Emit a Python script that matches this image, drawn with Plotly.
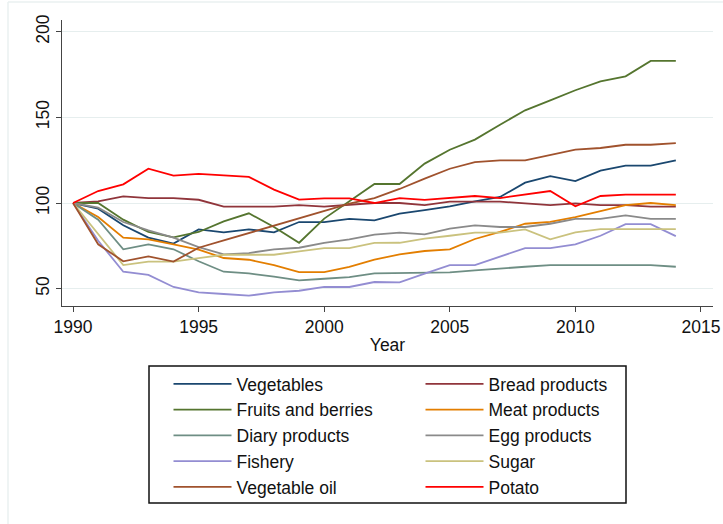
import plotly.graph_objects as go

years = list(range(1990, 2015))

vegetables = [100, 96.7, 87, 79.8, 76.3, 84.6, 82.9, 84.6, 82.9, 88.9, 88.9, 90.7, 89.9,
              93.8, 95.9, 98.1, 101, 103.5, 111.9, 115.7, 112.8, 118.9, 121.8, 121.8, 124.9]
bread = [100, 101, 103.9, 102.9, 102.9, 101.9, 97.9, 97.9, 97.9, 98.8, 97.9, 99, 100,
         100, 98.8, 100.8, 100.8, 100.8, 99.8, 98.8, 99.8, 98.8, 98.8, 97.9, 97.9]
fruits = [100, 100, 90.3, 83.1, 80, 83.1, 89.3, 94, 86, 76.8, 90.9, 101, 111.1,
          111.1, 123, 131.1, 137, 145.7, 154.1, 159.9, 165.8, 171, 173.9, 182.9, 182.9]
meat = [100, 91.8, 79.8, 78.8, 75.9, 72.8, 67.9, 66.9, 63.8, 59.7, 59.7, 62.8, 66.9,
        70, 72, 73, 79, 83.1, 87.9, 89, 91.8, 95.1, 98.8, 100, 98.8]
diary = [100, 90.3, 73, 75.9, 73, 66, 59.9, 58.9, 57, 54.9, 55.8, 56.8, 58.9,
         59.1, 59.5, 59.5, 60.7, 61.9, 62.8, 63.8, 63.8, 63.8, 63.8, 63.8, 62.8]
egg = [100, 97.3, 88.9, 84, 79.8, 74.3, 70, 70.8, 73, 73.9, 76.8, 78.8, 81.5,
       82.7, 81.7, 85, 87, 86, 86, 87.9, 90.7, 90.7, 92.8, 90.7, 90.7]
fishery = [100, 78, 59.9, 58, 51, 47.9, 46.9, 45.9, 47.9, 48.8, 51, 51, 53.9,
           53.7, 58.8, 63.8, 63.8, 68.9, 73.7, 73.7, 75.9, 80.9, 87.7, 87.7, 80.7]
sugar = [100, 82, 63.8, 65.8, 65.8, 67.9, 69.8, 69.8, 69.8, 71.8, 73.7, 73.7, 76.7,
         76.8, 79.2, 80.9, 82.7, 82.7, 84.6, 78.8, 82.9, 84.8, 84.8, 84.8, 84.8]
veg_oil = [100, 75.9, 66, 68.9, 65.8, 73.9, 78.2, 82.5, 86.8, 91.4, 95.7, 99.6, 102.9,
           108.2, 114.2, 120, 123.9, 124.9, 124.9, 128.2, 131.1, 132.1, 134, 134, 135]
potato = [100, 107, 110.9, 120, 116, 117, 116.1, 115.2, 107.8, 102, 102.7, 102.7, 100,
          102.9, 101.8, 102.9, 104.1, 102.9, 104.9, 107, 98.1, 104.1, 104.9, 104.9, 104.9]

y_ticks = [50, 100, 150, 200]
x_ticks = [1990, 1995, 2000, 2005, 2010, 2015]

# legend order (row-wise, two columns)
series = [
    ("Vegetables", vegetables, "#1a476f"),
    ("Bread products", bread, "#90353b"),
    ("Fruits and berries", fruits, "#55752f"),
    ("Meat products", meat, "#e37e00"),
    ("Diary products", diary, "#6e8e84"),
    ("Egg products", egg, "#8a8a8a"),
    ("Fishery", fishery, "#938dd2"),
    ("Sugar", sugar, "#cac27e"),
    ("Vegetable oil", veg_oil, "#a0522d"),
    ("Potato", potato, "#ff0000"),
]

fig = go.Figure()
for name, vals, col in series:
    fig.add_trace(go.Scatter(x=years, y=vals, mode="lines", name=name,
                             line=dict(color=col, width=1.8)))

font = "Arial, Liberation Sans, sans-serif"
fig.update_layout(
    width=723, height=524,
    margin=dict(l=62, r=10, t=20, b=218, autoexpand=False),
    paper_bgcolor="white", plot_bgcolor="white",
    font=dict(family=font, size=17, color="#111111"),
    showlegend=True,
    legend=dict(
        orientation="h", x=0.1636, xanchor="left", y=-0.2098, yanchor="top",
        borderwidth=0, bgcolor="rgba(0,0,0,0)",
        itemwidth=58,
        entrywidth=179, entrywidthmode="pixels",
        font=dict(family=font, size=17.5, color="#111111"),
        tracegroupgap=0,
    ),
    xaxis=dict(
        range=[1989.56, 2015.48], tickvals=x_ticks, ticks="outside", ticklen=5,
        tickcolor="#444444", showline=True, linecolor="#444444", linewidth=1,
        showgrid=False, zeroline=False, automargin=False,
        title=dict(text="Year", font=dict(size=17.5), standoff=2),
        tickfont=dict(size=17.5),
    ),
    yaxis=dict(
        range=[39.9, 206.8], tickvals=y_ticks, ticks="outside", ticklen=5,
        tickcolor="#444444", showline=True, linecolor="#444444", linewidth=1,
        showgrid=True, gridcolor="#e6eeee", gridwidth=1, zeroline=False,
        automargin=False, tickangle=-90, tickfont=dict(size=17.5),
    ),
    shapes=[
        # faint outer frame (left and top only)
        dict(type="line", xref="paper", yref="paper",
             x0=-54 / 651, x1=-54 / 651, y0=-218 / 286, y1=304 / 286,
             line=dict(color="#eaf0f0", width=1.5), layer="below"),
        dict(type="line", xref="paper", yref="paper",
             x0=-54 / 651, x1=661 / 651, y0=304 / 286, y1=304 / 286,
             line=dict(color="#eaf0f0", width=1.5), layer="below"),
        # legend frame
        dict(type="rect", xref="paper", yref="paper",
             x0=87 / 651, x1=564 / 651, y0=-197 / 286, y1=-60 / 286,
             line=dict(color="#111111", width=1.5), fillcolor="white", layer="below"),
    ],
)

fig.write_html("out.html", config={"displayModeBar": False},
               post_script="document.body.style.margin='0';document.body.style.overflow='hidden';")
